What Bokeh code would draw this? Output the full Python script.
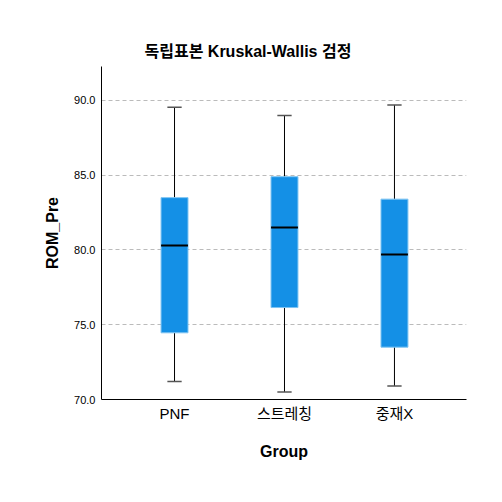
from bokeh.plotting import figure
from bokeh.models import FixedTicker, ColumnDataSource
from bokeh.embed import file_html
from bokeh.resources import INLINE

groups = ["PNF", "스트레칭", "중재X"]
lower = [71.2, 70.5, 70.9]
q1 = [74.46, 76.15, 73.5]
median = [80.3, 81.5, 79.7]
q3 = [83.5, 84.9, 83.4]
upper = [89.55, 89.0, 89.7]

y_ticks = [70, 75, 80, 85, 90]
y_tick_labels = ["70.0", "75.0", "80.0", "85.0", "90.0"]

xs = list(range(len(groups)))
box_w = 0.245
cap_w = 0.13

src = ColumnDataSource(dict(
    x=xs, lower=lower, q1=q1, med=median, q3=q3, upper=upper,
    bx0=[x - box_w / 2 for x in xs], bx1=[x + box_w / 2 for x in xs],
    cx0=[x - cap_w / 2 for x in xs], cx1=[x + cap_w / 2 for x in xs],
))

FONT = "'Liberation Sans', 'Noto Sans CJK KR'"

p = figure(width=502, height=502, output_backend="svg", toolbar_location=None,
           x_range=(-0.664, 2.655), y_range=(70, 92.27),
           title="독립표본 Kruskal-Wallis 검정",
           min_border_left=101, min_border_right=36, min_border_top=66, min_border_bottom=103)

p.title.align = "left"
p.title.text_font = FONT
p.title.text_font_size = "16px"
p.title.text_font_style = "bold"
p.title.text_color = "black"
p.title.offset = 43
p.title.standoff = 14

# whiskers
p.segment(x0="x", y0="q3", x1="x", y1="upper", source=src, line_color="black", line_width=1)
p.segment(x0="x", y0="lower", x1="x", y1="q1", source=src, line_color="black", line_width=1)
p.segment(x0="cx0", y0="upper", x1="cx1", y1="upper", source=src, line_color="#555555", line_width=1.5)
p.segment(x0="cx0", y0="lower", x1="cx1", y1="lower", source=src, line_color="#555555", line_width=1.5)
# boxes
p.vbar(x="x", bottom="q1", top="q3", width=box_w, source=src,
       fill_color="#1490E6", line_color="#7EC4F2", line_width=1)
# median
p.segment(x0="bx0", y0="med", x1="bx1", y1="med", source=src, line_color="black", line_width=2)

p.xaxis.ticker = FixedTicker(ticks=xs)
p.xaxis.major_label_overrides = {i: g for i, g in enumerate(groups)}
p.yaxis.ticker = FixedTicker(ticks=y_ticks)
p.yaxis.major_label_overrides = {t: l for t, l in zip(y_ticks, y_tick_labels)}

for ax in (p.xaxis[0], p.yaxis[0]):
    ax.major_tick_out = 0
    ax.major_tick_in = 0
    ax.minor_tick_out = 0
    ax.minor_tick_in = 0
    ax.axis_line_color = "black"
    ax.axis_line_width = 1
    ax.major_label_text_font = FONT
    ax.major_label_text_color = "black"
    ax.axis_label_text_font = FONT
    ax.axis_label_text_font_style = "bold"
    ax.axis_label_text_font_size = "16px"
    ax.axis_label_text_color = "black"

p.xaxis.axis_label = "Group"
p.yaxis.axis_label = "ROM_Pre"
p.xaxis.major_label_text_font_size = "15px"
p.yaxis.major_label_text_font_size = "11px"
p.xaxis.major_label_standoff = 5
p.yaxis.major_label_standoff = 6
p.xaxis.axis_label_standoff = 18
p.yaxis.axis_label_standoff = 10

p.xgrid.visible = False
p.ygrid.grid_line_color = "#bbbbbb"
p.ygrid.grid_line_dash = "4 3"
p.ygrid.grid_line_width = 1
p.outline_line_color = None
p.background_fill_color = "white"
p.border_fill_color = "white"

open("out.html", "w").write(file_html(p, INLINE))
